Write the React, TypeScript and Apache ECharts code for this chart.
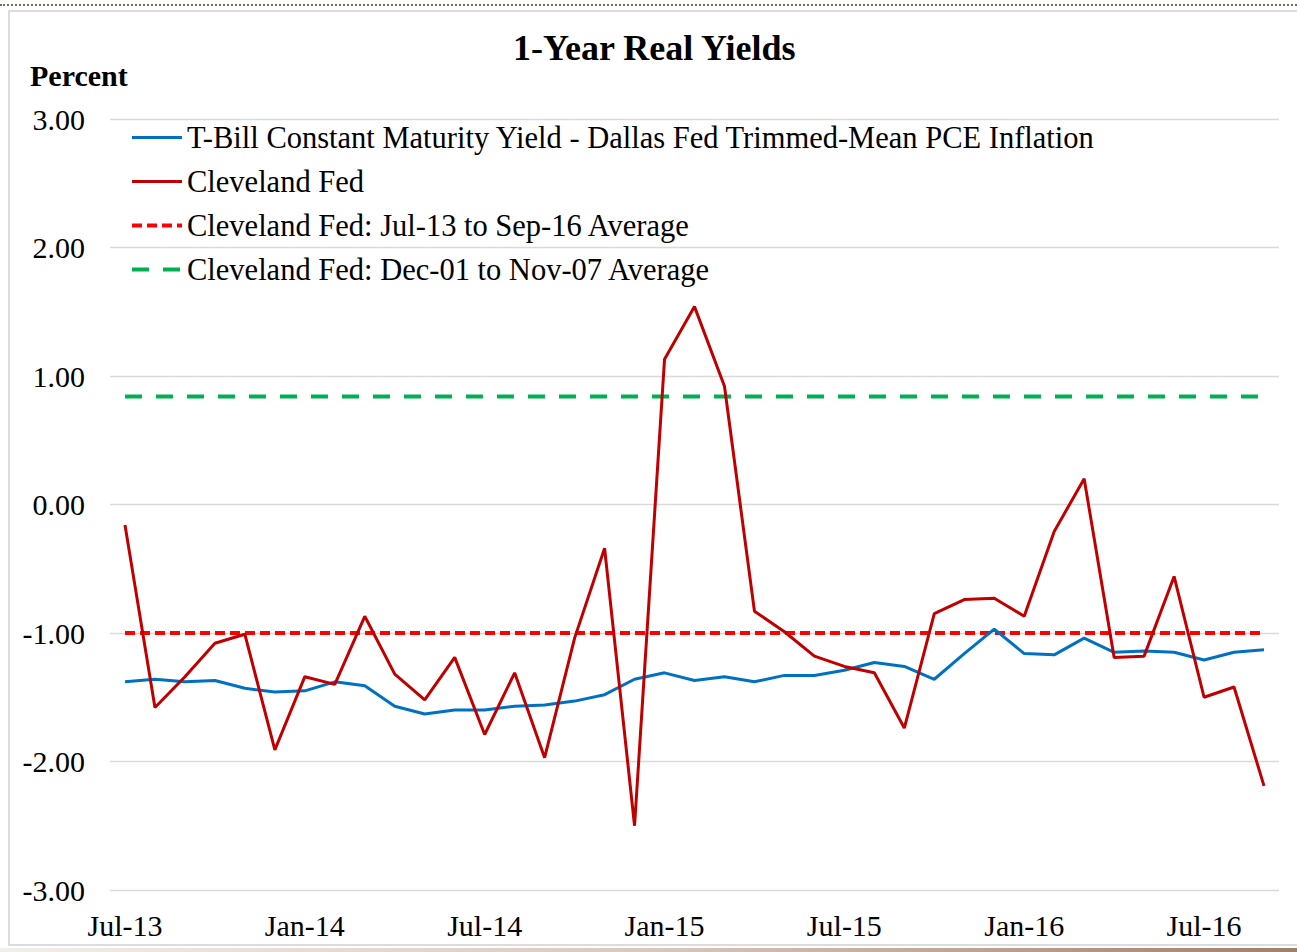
import React, { useEffect, useRef } from "react";
import * as echarts from "echarts";

const categories = [
  "Jul-13", "Aug-13", "Sep-13", "Oct-13", "Nov-13", "Dec-13",
  "Jan-14", "Feb-14", "Mar-14", "Apr-14", "May-14", "Jun-14",
  "Jul-14", "Aug-14", "Sep-14", "Oct-14", "Nov-14", "Dec-14",
  "Jan-15", "Feb-15", "Mar-15", "Apr-15", "May-15", "Jun-15",
  "Jul-15", "Aug-15", "Sep-15", "Oct-15", "Nov-15", "Dec-15",
  "Jan-16", "Feb-16", "Mar-16", "Apr-16", "May-16", "Jun-16",
  "Jul-16", "Aug-16", "Sep-16",
];

const tbillMinusPce = [
  -1.38, -1.36, -1.38, -1.37, -1.43, -1.46, -1.45, -1.38, -1.41, -1.57,
  -1.63, -1.6, -1.6, -1.57, -1.56, -1.53, -1.48, -1.36, -1.31, -1.37,
  -1.34, -1.38, -1.33, -1.33, -1.29, -1.23, -1.26, -1.36, -1.16, -0.97,
  -1.16, -1.17, -1.04, -1.15, -1.14, -1.15, -1.21, -1.15, -1.13,
];

const clevelandFed = [
  -0.16, -1.58, -1.34, -1.08, -1.01, -1.91, -1.34, -1.4, -0.87, -1.32,
  -1.52, -1.19, -1.79, -1.31, -1.97, -1.04, -0.34, -2.5, 1.13, 1.54,
  0.92, -0.83, -0.99, -1.18, -1.26, -1.31, -1.74, -0.85, -0.74, -0.73,
  -0.87, -0.21, 0.2, -1.19, -1.18, -0.56, -1.5, -1.42, -2.19,
];

const avgRecent = -1.0;
const avgPre = 0.84;

const yTicks = { min: -3, max: 3, interval: 1 };

const seriesNames = [
  "T-Bill Constant Maturity Yield - Dallas Fed Trimmed-Mean PCE Inflation",
  "Cleveland Fed",
  "Cleveland Fed: Jul-13 to Sep-16 Average",
  "Cleveland Fed: Dec-01 to Nov-07 Average",
];

const seriesColors = ["#0070C0", "#C00000", "#FF0000", "#00B050"];
const seriesWidths = [3, 3, 4, 4];
const seriesDash: any[] = ["solid", "solid", [10, 5], [17, 14]];

const FONT = "'Liberation Serif', 'Times New Roman', serif";

export default function App() {
  const ref = useRef<HTMLDivElement>(null);

  useEffect(() => {
    if (!ref.current) return;
    const chart = echarts.init(ref.current, null, { renderer: "svg" });
    const option = {
      animation: false,
      backgroundColor: "transparent",
      textStyle: { fontFamily: FONT },
      title: [
        {
          text: "1-Year Real Yields",
          left: 508,
          top: 25,
          textStyle: { fontFamily: FONT, fontSize: 36, fontWeight: "bold", color: "#000" },
        },
        {
          text: "Percent",
          left: 25,
          top: 55,
          textStyle: { fontFamily: FONT, fontSize: 30, fontWeight: "bold", color: "#000" },
        },
      ],
      legend: {
        orient: "vertical",
        left: 125,
        top: 117,
        itemWidth: 50,
        itemHeight: 14,
        itemGap: 13,
        itemStyle: { opacity: 0 },
        textStyle: { fontFamily: FONT, fontSize: 30.5, lineHeight: 30, color: "#000" },
        data: seriesNames.map((n, i) => ({
          name: n,
          lineStyle: { width: seriesWidths[i], type: seriesDash[i], color: seriesColors[i] },
          itemStyle: { opacity: 0 },
        })),
      },
      grid: { left: 110, right: 18, top: 119, bottom: 62, containLabel: false },
      xAxis: {
        type: "category",
        data: categories,
        boundaryGap: true,
        axisLine: { show: false },
        axisTick: { show: false },
        axisLabel: {
          interval: 5,
          margin: 20,
          fontFamily: FONT,
          fontSize: 30,
          color: "#000",
        },
      },
      yAxis: {
        type: "value",
        min: yTicks.min,
        max: yTicks.max,
        interval: yTicks.interval,
        axisLine: { show: false },
        axisTick: { show: false },
        splitLine: { lineStyle: { color: "#d9d9d9", width: 1.3 } },
        axisLabel: {
          margin: 25,
          fontFamily: FONT,
          fontSize: 30,
          color: "#000",
          formatter: (v: number) => v.toFixed(2),
        },
      },
      series: [
        {
          name: seriesNames[0],
          type: "line",
          data: tbillMinusPce,
          symbol: "none",
          lineStyle: { color: seriesColors[0], width: seriesWidths[0], type: seriesDash[0] },
          itemStyle: { color: seriesColors[0] },
          z: 4,
        },
        {
          name: seriesNames[1],
          type: "line",
          data: clevelandFed,
          symbol: "none",
          lineStyle: { color: seriesColors[1], width: seriesWidths[1], type: seriesDash[1] },
          itemStyle: { color: seriesColors[1] },
          z: 5,
        },
        {
          name: seriesNames[2],
          type: "line",
          data: categories.map(() => avgRecent),
          symbol: "none",
          lineStyle: { color: seriesColors[2], width: seriesWidths[2], type: seriesDash[2] },
          itemStyle: { color: seriesColors[2] },
          z: 3,
        },
        {
          name: seriesNames[3],
          type: "line",
          data: categories.map(() => avgPre),
          symbol: "none",
          lineStyle: { color: seriesColors[3], width: seriesWidths[3], type: seriesDash[3] },
          itemStyle: { color: seriesColors[3] },
          z: 3,
        },
      ],
    };
    chart.setOption(option as any);
    return () => chart.dispose();
  }, []);

  return (
    <div
      style={{
        position: "absolute",
        left: 0,
        top: 0,
        width: 1297,
        height: 952,
        overflow: "hidden",
        background: "#fff",
      }}
    >
      <div
        style={{
          position: "absolute",
          left: 0,
          top: 4,
          width: 1297,
          height: 0,
          borderTop: "2px dotted #7d6a4d",
        }}
      />
      <div
        style={{
          position: "absolute",
          left: 8,
          top: 10,
          width: 1310,
          height: 936,
          border: "2px solid #dcdcdc",
          boxSizing: "border-box",
        }}
      />
      <div
        style={{
          position: "absolute",
          left: 0,
          top: 948,
          width: 1297,
          height: 4,
          background: "linear-gradient(to right, #f2eeea, #d8c8bc 50%, #a07f6c)",
        }}
      />
      <div ref={ref} style={{ position: "absolute", left: 0, top: 0, width: 1297, height: 952 }} />
    </div>
  );
}
